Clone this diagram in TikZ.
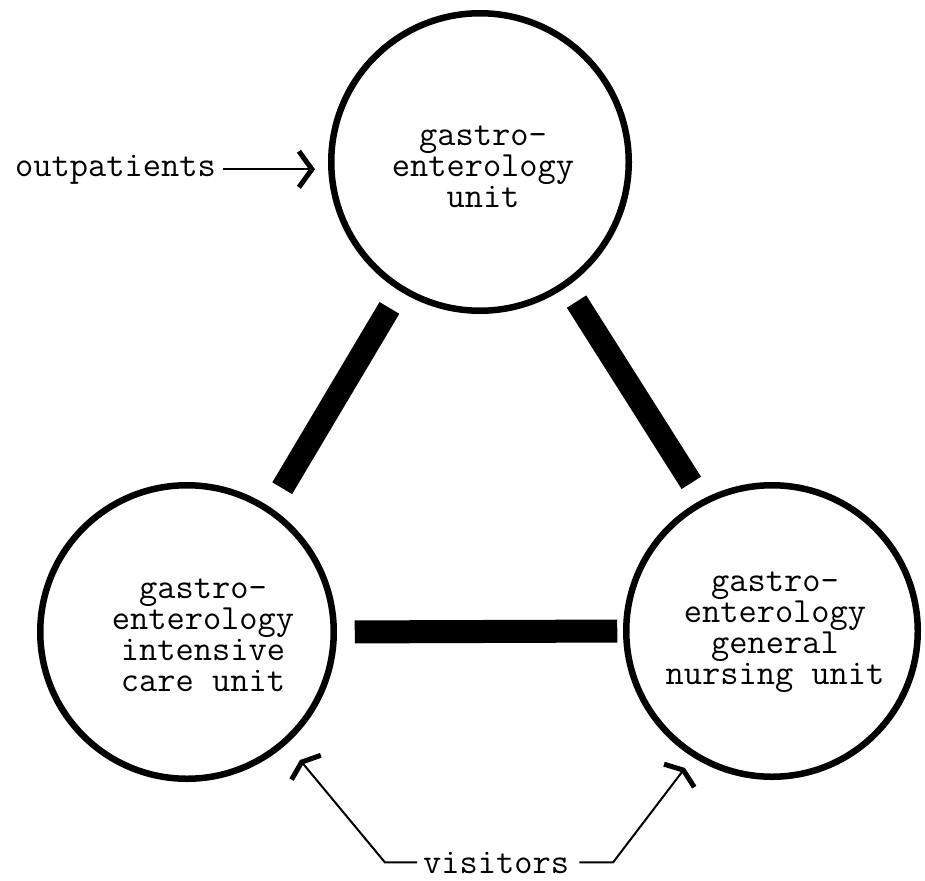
\documentclass[tikz,border=0pt]{standalone}
\usetikzlibrary{arrows.meta,calc}
\tikzset{
  unit/.style={circle, draw, line width=6.5pt, inner sep=0pt, outer sep=0pt},
  lbl/.style={font=\fontsize{35.4}{31}\selectfont\ttfamily, align=center, inner sep=0pt},
  bar/.style={line width=23pt},
  feed/.style={line width=2pt},
  bigtip/.style={-{Straight Barb[length=13pt,width=36pt,line width=5pt]}},
  widetip/.style={-{Straight Barb[length=7pt,width=38pt,line width=5pt]}},
}
\begin{document}
\begin{tikzpicture}[x=1pt,y=-1pt]
\useasboundingbox (0,0) rectangle (925,880);
% units
\node[unit, minimum size=297.5pt] (top) at (480,162) {};
\node[unit, minimum size=293.5pt] (icu) at (187,632) {};
\node[unit, minimum size=291.5pt] (gnu) at (772,631) {};
% labels
\node[lbl] (toptext) at (483,167) {gastro-\\enterology\\unit};
\node[lbl] (icutext) at (203,635) {gastro-\\enterology\\intensive\\care unit};
\node[lbl] (gnutext) at (775,632) {gastro-\\enterology\\general\\nursing unit};
% links
\draw[bar, shorten <=23pt, shorten >=25.75pt] (top.-122.4) -- (icu.56.6);
\draw[bar, shorten <=21pt, shorten >=23pt] (top.-55.6) -- (gnu.118.2);
\draw[bar, shorten <=21pt, shorten >=9pt] (icu.east) -- (gnu.west);
% outpatients
\node[lbl, anchor=base west] (outp) at (15,176) {outpatients};
\coordinate (optip) at (315,0);
\draw[feed, bigtip] ([xshift=7pt]outp.east) -- (outp.east -| optip);
% visitors
\node[lbl, anchor=base west] (vis) at (423,873) {visitors};
\coordinate (vtipL) at (300,760);
\coordinate (vtipR) at (685,768);
\coordinate (vbendL) at (385,0);
\coordinate (vbendR) at (613,0);
\draw[feed, widetip] ([xshift=-6pt]vis.west) -- (vis.west -| vbendL) -- (vtipL);
\draw[feed, widetip] ([xshift=10pt]vis.east) -- (vis.east -| vbendR) -- (vtipR);
\end{tikzpicture}
\end{document}
